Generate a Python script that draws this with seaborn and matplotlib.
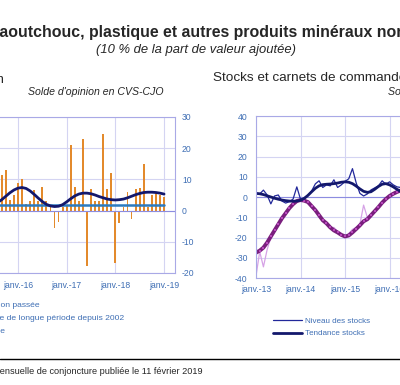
import numpy as np
import pandas as pd
import matplotlib
matplotlib.use("Agg")
import matplotlib.pyplot as plt
from matplotlib.lines import Line2D
import seaborn as sns

W, H = 400, 385

# x = months since Jan 2013
# left panel: production, monthly Aug 2015 -> Jan 2019
PROD_START = 31
prod_passee = [-2.7, 11.3, 13.0, 3.5, 5.0,
               9.0, 10.0, 2.0, 3.0, 6.5, 3.0, 7.7, 3.0, 1.0, -5.6, -3.8, 1.0,
               1.5, 21.0, 7.7, 3.0, 23.0, -17.7, 7.0, 3.0, 3.0, 24.7, 7.0, 12.0,
               -16.7, -4.0, 1.0, 6.0, -2.7, 7.0, 7.3, 14.8, 1.0, 5.0, 5.5, 5.0,
               4.3]
prod_tendance = [2.6, 3.5, 4.6, 5.7, 6.6,
                 7.2, 7.4, 7.1, 6.3, 5.2, 4.0, 2.9, 2.0, 1.5, 1.3, 1.4, 1.9,
                 2.8, 3.8, 4.7, 5.3, 5.6, 5.6, 5.4, 5.0, 4.5, 4.1, 3.7, 3.5,
                 3.4, 3.5, 3.7, 4.1, 4.6, 5.1, 5.5, 5.8, 5.9, 5.9, 5.8, 5.6,
                 5.3]
MOY_LONGUE = 1.9

# right panel: stocks and order books, monthly from Jan 2013
stocks_niveau = [1.5, 1.5, 3.4, 1.0, -3.4, 0.5, 1.0, -2.0, -3.0, -2.3, -1.0, 5.0,
                 -1.1, -0.5, 1.0, 3.0, 6.5, 8.0, 4.7, 6.0, 5.5, 8.5, 4.7, 6.0,
                 7.7, 9.0, 14.0, 7.0, 1.8, 0.5, 1.5, 3.5, 4.5, 5.5, 8.0, 6.3,
                 7.5, 6.0, 5.0, 4.7, 4.0]
stocks_tendance = [1.8, 1.6, 1.2, 0.6, 0.0, -0.6, -1.1, -1.5, -1.8, -2.0, -2.1, -2.0,
                   -1.6, -0.7, 0.8, 2.6, 4.3, 5.5, 6.1, 6.3, 6.4, 6.6, 6.9, 7.3,
                   7.5, 7.3, 6.6, 5.4, 4.0, 2.8, 2.3, 2.6, 3.8, 5.2, 6.3, 6.6,
                   6.0, 5.0, 3.8, 2.8, 2.2]
carnets_niveau = [-39.0, -27.0, -34.5, -26.0, -20.0, -17.0, -14.0, -11.0, -8.0, -6.0, -3.0, -2.5,
                  -1.0, -1.5, -2.0, -5.5, -7.0, -10.0, -12.0, -13.5, -15.5, -15.0, -17.0, -18.5,
                  -19.5, -18.0, -16.0, -15.0, -13.5, -4.0, -10.0, -9.0, -6.5, -5.0, -3.0, -1.0,
                  1.0, 1.5, 3.0, 3.5, 4.0]
carnets_tendance = [-27.5, -26.5, -25.0, -22.5, -19.5, -16.5, -13.5, -10.5, -8.0, -5.5, -3.5, -2.0,
                    -1.5, -1.8, -2.5, -4.5, -6.5, -9.0, -11.5, -13.0, -15.0, -16.5, -17.5, -18.7,
                    -19.5, -19.0, -17.5, -15.8, -14.0, -12.0, -11.0, -9.0, -7.0, -5.0, -2.8, -1.0,
                    0.5, 1.6, 2.5, 3.2, 3.7]

YEAR_TICKS = [0, 12, 24, 36, 48, 60, 72]
YEAR_LABELS = ["janv.-13", "janv.-14", "janv.-15", "janv.-16", "janv.-17", "janv.-18", "janv.-19"]

ORANGE = "#E38A2C"
NAVY = "#13186C"
BLEU_MOY = "#2C7BC0"
BLEU_STOCK = "#22289A"
VIOLET = "#7A1F7E"
VIOLET_CLAIR = "#D6A2E6"
GRID = "#D4D4F2"
SPINE = "#A9A9E6"
TXT = "#3E6EB4"


def box(x0, y0, x1, y1):
    # pixel box -> figure fraction
    return [x0 / W, 1 - y1 / H, (x1 - x0) / W, (y1 - y0) / H]


def style_axes(ax):
    ax.grid(True, color=GRID, lw=0.8)
    ax.set_axisbelow(True)
    for s in ax.spines.values():
        s.set_color(SPINE)
        s.set_linewidth(0.8)
    ax.axhline(0, color="#8C8CE0", lw=0.8, zorder=1)
    ax.set_xticks(YEAR_TICKS)
    ax.set_xticklabels(YEAR_LABELS)
    ax.set_xlabel("")
    ax.set_ylabel("")
    ax.tick_params(length=0, labelsize=6.2, labelcolor=TXT)


sns.set_style("white")
plt.rcParams["font.family"] = ["Liberation Sans", "DejaVu Sans"]
plt.rcParams["axes.unicode_minus"] = False

fig = plt.figure(figsize=(W / 100, H / 100), dpi=100)

# ---- left panel
t_prod = np.arange(PROD_START, PROD_START + len(prod_passee)).astype(float)
prod_df = pd.DataFrame({"t": t_prod, "passee": prod_passee,
                        "tendance": prod_tendance,
                        "moyenne": [MOY_LONGUE] * len(t_prod)})

ax1 = fig.add_axes(box(-22.6, 117, 175, 273))
sns.barplot(data=prod_df, x="t", y="passee", native_scale=True, color=ORANGE,
            saturation=1, width=0.45, errorbar=None, edgecolor="none",
            linewidth=0, ax=ax1)
sns.lineplot(data=prod_df, x="t", y="moyenne", color=BLEU_MOY, lw=1.8, ax=ax1)
sns.lineplot(data=prod_df, x="t", y="tendance", color=NAVY, lw=2.0, ax=ax1)
style_axes(ax1)
ax1.set_xlim(26, 74.7)
ax1.set_ylim(-20, 30)
ax1.set_yticks(range(-20, 31, 10))
ax1.yaxis.tick_right()
ax1.tick_params(axis="y", pad=5)
ax1.tick_params(axis="x", pad=6)

h1 = [plt.Rectangle((0, 0), 1, 1, color=ORANGE),
      Line2D([], [], color=BLEU_MOY, lw=1.8),
      Line2D([], [], color=NAVY, lw=2.0)]
l1 = ["Production passée", "Moyenne de longue période depuis 2002", "Tendance"]
fig.legend(h1, l1, loc="upper left", bbox_to_anchor=(-60 / W, 1 - 298 / H),
           frameon=False, fontsize=6.1, labelcolor=TXT, handlelength=2.5,
           handletextpad=0.5, labelspacing=0.58, borderaxespad=0)

# ---- right panel
t_st = np.arange(len(stocks_niveau))
st_df = pd.DataFrame({"t": t_st, "sn": stocks_niveau, "stend": stocks_tendance,
                      "cn": carnets_niveau, "ctend": carnets_tendance})

ax2 = fig.add_axes(box(256, 116, 256 + 74 * 3.71, 278))
sns.lineplot(data=st_df, x="t", y="cn", color=VIOLET_CLAIR, lw=0.9, ax=ax2)
sns.lineplot(data=st_df, x="t", y="ctend", color=VIOLET, lw=2.8, ax=ax2,
             marker="s", markersize=1.5, markeredgewidth=0,
             markerfacecolor="#B848BC")
sns.lineplot(data=st_df, x="t", y="sn", color=BLEU_STOCK, lw=0.9, ax=ax2,
             label="Niveau des stocks")
sns.lineplot(data=st_df, x="t", y="stend", color=NAVY, lw=2.0, ax=ax2,
             label="Tendance stocks")
style_axes(ax2)
ax2.set_xlim(0, 74)
ax2.set_ylim(-40, 40)
ax2.set_yticks(range(-40, 41, 10))
ax2.tick_params(axis="y", pad=6)
ax2.tick_params(axis="x", pad=5)
h2, l2 = ax2.get_legend_handles_labels()
if ax2.legend_:
    ax2.legend_.remove()
fig.legend(h2, l2, loc="upper left", bbox_to_anchor=(270 / W, 1 - 314 / H),
           frameon=False, fontsize=5.8, labelcolor=TXT, handlelength=3.6,
           handletextpad=0.4, labelspacing=0.6, borderaxespad=0)

# ---- titles and texts
fig.text(-11.5 / W, 1 - 33 / H,
         "Caoutchouc, plastique et autres produits minéraux non métalliques",
         ha="left", va="center", fontsize=11.4, fontweight="bold")
fig.text(196 / W, 1 - 50 / H, "(10 % de la part de valeur ajoutée)",
         ha="center", va="center", fontsize=9.4, style="italic")
fig.text(5 / W, 1 - 80 / H, "Production", ha="right", va="center", fontsize=9.6)
fig.text(96 / W, 1 - 92 / H, "Solde d'opinion en CVS-CJO", ha="center",
         va="center", fontsize=7.6, style="italic")
fig.text(213 / W, 1 - 78 / H, "Stocks et carnets de commandes", ha="left",
         va="center", fontsize=9.7)
fig.text(388 / W, 1 - 92 / H, "Solde d'opinion en CVS-CJO", ha="left",
         va="center", fontsize=7.6, style="italic")

fig.add_artist(Line2D([0, 1], [1 - 359 / H, 1 - 359 / H], color="black",
                      lw=1.0, transform=fig.transFigure))
fig.text(203 / W, 1 - 372 / H,
         "Source : Banque de France, Enquête mensuelle de conjoncture publiée le 11 février 2019",
         ha="right", va="center", fontsize=6.6)

fig.savefig("out.png", dpi=100)
